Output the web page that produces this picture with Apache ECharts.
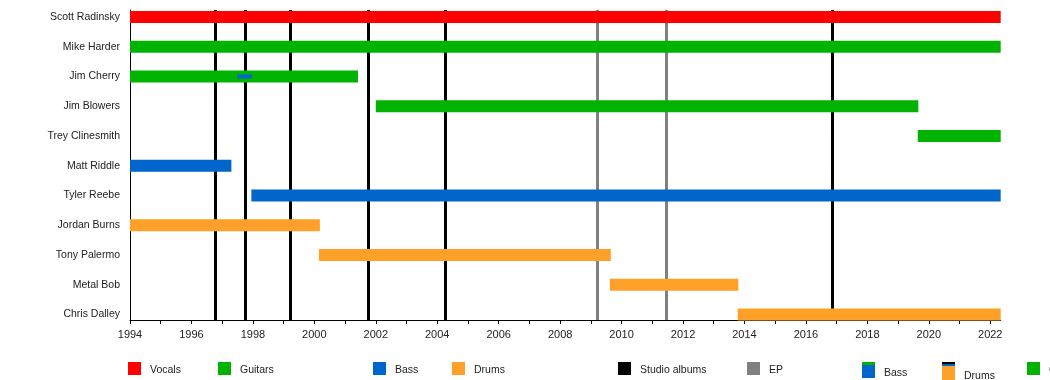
<!DOCTYPE html>
<html>
<head>
<meta charset="utf-8">
<script src="https://cdn.jsdelivr.net/npm/echarts@6/dist/echarts.min.js"></script>
<style>
html,body{margin:0;padding:0;background:#fff;}
#chart{width:1050px;height:380px;}
</style>
</head>
<body>
<div id="chart"></div>
<script>
// ---- data ----
const members = ['Scott Radinsky','Mike Harder','Jim Cherry','Jim Blowers','Trey Clinesmith','Matt Riddle','Tyler Reebe','Jordan Burns','Tony Palermo','Metal Bob','Chris Dalley'];
const END = 2022.34;
const vocalsBars = [['Scott Radinsky', 1994, END]];
const guitarBars = [['Mike Harder', 1994, END], ['Jim Cherry', 1994, 2001.42], ['Jim Blowers', 2002.0, 2019.66], ['Trey Clinesmith', 2019.64, END]];
const bassBars = [['Matt Riddle', 1994, 1997.3], ['Tyler Reebe', 1997.95, END]];
const bassMinorBars = [['Jim Cherry', 1997.5, 1997.97]];
const drumBars = [['Jordan Burns', 1994, 2000.18], ['Tony Palermo', 2000.15, 2009.65], ['Metal Bob', 2009.62, 2013.8], ['Chris Dalley', 2013.78, END]];
const studioAlbums = [1996.77, 1997.75, 1999.22, 2001.75, 2004.25, 2016.87];
const eps = [2009.2, 2011.47];
const xMin = 1994, xMax = END;

const C = {vocals:'#ff0000', guitars:'#00b300', bass:'#0066cc', drums:'#ffa028', studio:'#000000', ep:'#808080'};
const FONT = '"Liberation Sans", Arial, sans-serif';

function toData(arr){ return arr.map(d => [members.indexOf(d[0]), d[1], d[2]]); }

function barSeries(arr, color, h){
  return {
    type:'custom', xAxisIndex:1, yAxisIndex:1, z:5,
    encode:{x:[1,2], y:0},
    data: toData(arr),
    renderItem:function(params, api){
      const row = api.value(0);
      const p0 = api.coord([api.value(1), row]);
      const p1 = api.coord([api.value(2), row]);
      return {type:'rect', shape:{x:p0[0], y:p0[1]-h/2, width:p1[0]-p0[0], height:h}, style:{fill:color}};
    }
  };
}

function vLines(vals, color){
  return {
    type:'line', xAxisIndex:0, yAxisIndex:0, z:2, data:[], silent:true,
    markLine:{symbol:['none','none'], silent:true, animation:false, label:{show:false},
      lineStyle:{color:color, width:3, type:'solid'},
      data: vals.map(v => ({xAxis:v}))}
  };
}

const left = 130, right = 1050 - 1000.7;
const legendItems = [
  {x:128, label:'Vocals', parts:[[C.vocals,0,13]]},
  {x:218, label:'Guitars', parts:[[C.guitars,0,13]]},
  {x:373, label:'Bass', parts:[[C.bass,0,13]]},
  {x:452, label:'Drums', parts:[[C.drums,0,13]]},
  {x:618, label:'Studio albums', parts:[[C.studio,0,13]]},
  {x:747, label:'EP', parts:[[C.ep,0,13]]},
  {x:862, label:'Bass', parts:[[C.guitars,0,3],[C.bass,3,16]], ty:11},
  {x:942, label:'Drums', parts:[[C.studio,0,2],[C.bass,2,4],[C.drums,4,18]], ty:14},
  {x:1027, label:'Guitars', parts:[[C.guitars,0,13]]}
];
const graphics = [];
legendItems.forEach(it => {
  it.parts.forEach(p => graphics.push({type:'rect', left:it.x, top:362+p[1], shape:{width:13, height:p[2]-p[1]}, style:{fill:p[0]}, silent:true}));
  graphics.push({type:'text', left:it.x+22, top:362+(it.ty||8)-5, style:{text:it.label, fill:'#222', font:'10.5px '+FONT}, silent:true});
});

const option = {
  backgroundColor:'#fff',
  animation:false,
  textStyle:{fontFamily:FONT},
  grid:[
    {left:left, right:right, top:10, height:310},
    {left:left, right:right, top:17-14.875, height:11*29.75}
  ],
  xAxis:[
    {type:'value', gridIndex:0, min:xMin, max:xMax, interval:1,
     axisLine:{show:true, lineStyle:{color:'#000', width:1}},
     axisTick:{show:true, length:4, lineStyle:{color:'#000'}},
     splitLine:{show:false},
     axisLabel:{color:'#222', fontSize:11, margin:9, fontFamily:FONT, showMaxLabel:false,
       formatter:v => (Math.round(v)===v && v%2===0) ? String(v) : ''}},
    {type:'value', gridIndex:1, min:xMin, max:xMax, show:false}
  ],
  yAxis:[
    {type:'value', gridIndex:0, min:0, max:1,
     axisLine:{show:true, lineStyle:{color:'#000', width:1}},
     axisTick:{show:false}, axisLabel:{show:false}, splitLine:{show:false}},
    {type:'category', gridIndex:1, data:members, inverse:true,
     axisLine:{show:false}, axisTick:{show:false}, splitLine:{show:false},
     axisLabel:{color:'#222', fontSize:10.5, margin:10, fontFamily:FONT}}
  ],
  graphic: graphics,
  series:[
    vLines(studioAlbums, C.studio),
    vLines(eps, C.ep),
    barSeries(vocalsBars, C.vocals, 12),
    barSeries(guitarBars, C.guitars, 12),
    barSeries(bassBars, C.bass, 12),
    barSeries(drumBars, C.drums, 12),
    Object.assign(barSeries(bassMinorBars, C.bass, 4), {z:6})
  ]
};
const chart = echarts.init(document.getElementById('chart'), null, {renderer:'canvas'});
chart.setOption(option);
</script>
</body>
</html>
